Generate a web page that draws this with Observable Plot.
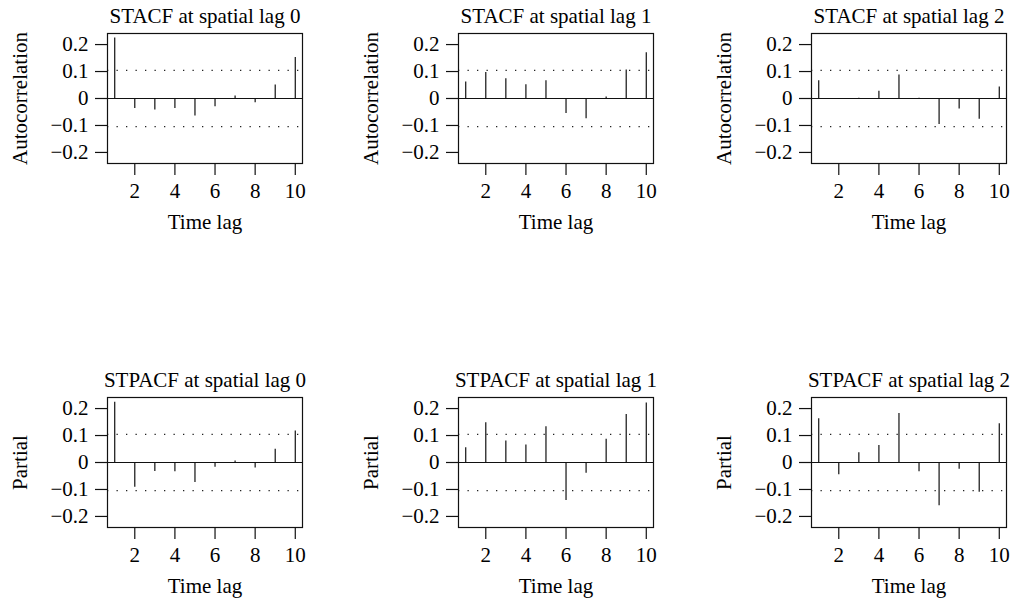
<!DOCTYPE html>
<html>
<head>
<meta charset="utf-8">
<script src="https://cdn.jsdelivr.net/npm/d3@7"></script>
<script src="https://cdn.jsdelivr.net/npm/@observablehq/plot@0.6"></script>
<style>
  html, body { margin: 0; padding: 0; background: #fff; overflow: hidden; }
  #wrap { position: relative; width: 1012px; height: 598px; }
  #wrap > svg { position: absolute; overflow: visible; }
</style>
</head>
<body>
<div id="wrap"></div>
<script>
// ---- data ----
const lags = [1, 2, 3, 4, 5, 6, 7, 8, 9, 10];
const stacf0 = [0.224, -0.037, -0.043, -0.037, -0.065, -0.031, 0.009, -0.016, 0.050, 0.152];
const stacf1 = [0.061, 0.096, 0.073, 0.051, 0.066, -0.056, -0.075, 0.006, 0.106, 0.170];
const stacf2 = [0.066, -0.002, 0.001, 0.027, 0.087, 0.001, -0.096, -0.039, -0.077, 0.043];
const stpacf0 = [0.223, -0.092, -0.033, -0.034, -0.074, -0.018, 0.006, -0.020, 0.049, 0.117];
const stpacf1 = [0.055, 0.147, 0.080, 0.065, 0.133, -0.141, -0.040, 0.086, 0.178, 0.221];
const stpacf2 = [0.162, -0.045, 0.036, 0.063, 0.182, -0.034, -0.160, -0.025, -0.110, 0.144];
const band = 0.104;
const xTicks = [2, 4, 6, 8, 10];
const yTicks = [-0.2, -0.1, 0, 0.1, 0.2];
const titles = ["STACF at spatial lag 0", "STACF at spatial lag 1", "STACF at spatial lag 2",
                "STPACF at spatial lag 0", "STPACF at spatial lag 1", "STPACF at spatial lag 2"];
const yLabels = ["Autocorrelation", "Autocorrelation", "Autocorrelation", "Partial", "Partial", "Partial"];
const xLabel = "Time lag";
const series = [stacf0, stacf1, stacf2, stpacf0, stpacf1, stpacf2];

// ---- layout ----
const boxLeft = [107, 458, 811];
const boxTop = [33, 397];
const boxW = 195, boxH = 130;
const mL = 100, mR = 10, mT = 40, mB = 70;
const ink = "#111";
const fmt = d => d === 0 ? "0" : d3.format(".1f")(d);

const wrap = document.getElementById("wrap");
series.forEach((vals, k) => {
  const col = k % 3, row = Math.floor(k / 3);
  const rows = lags.map((l, i) => ({lag: l, value: vals[i]}));
  const svg = Plot.plot({
    width: mL + boxW + mR,
    height: mT + boxH + mB,
    marginLeft: mL, marginRight: mR, marginTop: mT, marginBottom: mB,
    x: {domain: [0.64, 10.36]},
    y: {domain: [-0.241, 0.241]},
    style: {fontFamily: "'Liberation Serif', 'Times New Roman', serif", fontSize: "21px",
            color: "#000", background: "transparent", overflow: "visible"},
    marks: [
      Plot.ruleY([band, -band], {stroke: "#222", strokeWidth: 1.3, strokeDasharray: "1.3,8.2"}),
      Plot.ruleY([0], {stroke: ink, strokeWidth: 1.2}),
      Plot.ruleX(rows, {x: "lag", y1: 0, y2: "value", stroke: ink, strokeWidth: 1.2}),
      Plot.frame({stroke: ink, strokeWidth: 1.2}),
      Plot.axisX({ticks: xTicks, tickSize: 12, tickPadding: 8, label: null, stroke: ink, strokeWidth: 1.2, strokeOpacity: 1, fill: "#000", fontVariant: "normal"}),
      Plot.axisY({ticks: yTicks, tickSize: 12, tickPadding: 7, label: null, tickFormat: fmt, stroke: ink, strokeWidth: 1.2, strokeOpacity: 1, fill: "#000", fontVariant: "normal"}),
      Plot.text([titles[k]], {text: d => d, frameAnchor: "top", dy: -11, lineAnchor: "bottom", textAnchor: "middle", fill: "#000"}),
      Plot.text([xLabel], {text: d => d, frameAnchor: "bottom", dy: 59, lineAnchor: "middle", textAnchor: "middle", fill: "#000"}),
      Plot.text([yLabels[k]], {text: d => d, frameAnchor: "left", dx: -87, rotate: -90, lineAnchor: "middle", textAnchor: "middle", fill: "#000"})
    ]
  });
  svg.style.left = (boxLeft[col] - mL) + "px";
  svg.style.top = (boxTop[row] - mT) + "px";
  wrap.appendChild(svg);
});
</script>
</body>
</html>
